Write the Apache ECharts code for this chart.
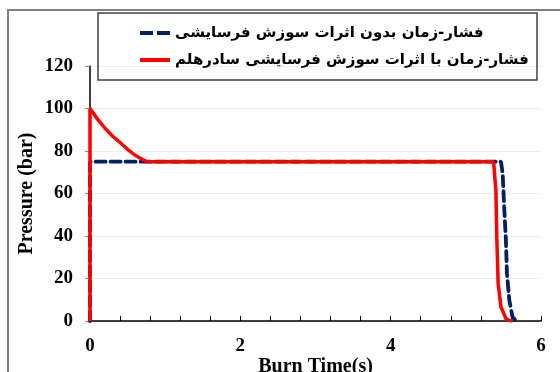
<!DOCTYPE html>
<html><head><meta charset="utf-8">
<script src="https://cdn.jsdelivr.net/npm/echarts@6/dist/echarts.min.js"></script>
<style>html,body{margin:0;padding:0;background:#fff}#c{width:560px;height:372px}</style>
</head><body><div id="c"></div>
<script>
// Series 1: pressure-time without erosive burning (dashed navy)
var timeNoErosion = [0, 0, 5.467, 5.49, 5.51, 5.533, 5.547, 5.578, 5.62, 5.66, 5.71];
var pressNoErosion = [0, 75, 75, 69.5, 53.8, 38, 22.4, 9.9, 2, 0.3, 0];
// Series 2: pressure-time with erosive burning (solid red)
var timeErosion = [0, 0, 0.1, 0.2, 0.3, 0.4, 0.5, 0.6, 0.7, 0.755, 5.369, 5.4, 5.413, 5.43, 5.467, 5.533, 5.58, 5.62];
var pressErosion = [0, 100, 95, 90.7, 87, 84, 80.8, 78, 76, 75, 75, 61.6, 38, 17.7, 6.7, 1.2, 0.2, 0];
var nameNoErosion = 'فشار-زمان بدون اثرات سوزش فرسایشی';
var nameErosion = 'فشار-زمان با اثرات سوزش فرسایشی سادرهلم';
var xTicks = [0, 2, 4, 6];
var yTicks = [0, 20, 40, 60, 80, 100, 120];

function pairs(xs, ys){ return xs.map(function(x,i){ return [x, ys[i]]; }); }

var chart = echarts.init(document.getElementById('c'), null, {renderer:'canvas'});
var serif = '"Liberation Serif", "Times New Roman", serif';
chart.setOption({
  animation: false,
  backgroundColor: '#fff',
  grid: {left: 90, right: 19, top: 66, bottom: 51, containLabel: false, outerBoundsMode: 'none'},
  graphic: [
    {type:'polyline', z: 0, silent:true, shape:{points:[[8,372],[8,10],[560,10]]}, style:{stroke:'#7f7f7f', lineWidth:2, fill:null}},
    {type:'rect', z: 10, silent:true, shape:{x:98, y:13, width:439, height:67}, style:{stroke:'#404040', lineWidth:1.5, fill:null}}
  ],
  legend: {
    orient: 'vertical', left: 140, top: 23,
    itemWidth: 30, itemHeight: 4, itemGap: 7,
    padding: 0,
    textStyle: {fontFamily: '"DejaVu Sans", sans-serif', fontWeight: 'bold', fontSize: 15, color: '#000', lineHeight: 20},
    data: [
      {name: nameNoErosion, icon: 'path://M0,0h13v4h-13z M17,0h13v4h-13z', itemStyle: {color: '#002060'}},
      {name: nameErosion, icon: 'rect', itemStyle: {color: '#ff0000'}}
    ]
  },
  xAxis: {
    type: 'value', min: 0, max: 6, interval: 2,
    name: 'Burn Time(s)', nameLocation: 'middle', nameGap: 36, nameMoveOverlap: false,
    nameTextStyle: {fontFamily: serif, fontWeight: 'bold', fontSize: 20, color: '#000'},
    axisLine: {show: true, onZero: false, lineStyle: {color: '#000', width: 1.5}},
    axisTick: {show: true, inside: true, length: 5, lineStyle: {color: '#000'}},
    minorTick: {show: true, splitNumber: 5, length: 5, lineStyle: {color: '#000'}},
    axisLabel: {fontFamily: serif, fontWeight: 'bold', fontSize: 19, color: '#000', margin: 16,
      formatter: function(v){ return xTicks.indexOf(Math.round(v)) >= 0 ? String(Math.round(v)) : ''; }},
    splitLine: {show: false}
  },
  yAxis: {
    type: 'value', min: 0, max: 120, interval: 20,
    name: 'Pressure (bar)', nameLocation: 'middle', nameGap: 53, nameMoveOverlap: false,
    nameTextStyle: {fontFamily: serif, fontWeight: 'bold', fontSize: 20, color: '#000'},
    axisLine: {show: true, lineStyle: {color: '#000', width: 1.5}},
    axisTick: {show: true, inside: false, length: 5, lineStyle: {color: '#888'}},
    axisLabel: {fontFamily: serif, fontWeight: 'bold', fontSize: 19, color: '#000', margin: 17,
      formatter: function(v){ return yTicks.indexOf(Math.round(v)) >= 0 ? String(Math.round(v)) : ''; }},
    splitLine: {show: true, lineStyle: {color: '#ececec', width: 1}}
  },
  series: [
    {name: nameNoErosion, type: 'line', showSymbol: false, symbol: 'none', z: 3,
     data: pairs(timeNoErosion, pressNoErosion),
     lineStyle: {color: '#002060', width: 3.8, type: [10, 5], cap: 'round'}, itemStyle: {color: '#002060'}},
    {name: nameErosion, type: 'line', showSymbol: false, symbol: 'none', z: 4,
     data: pairs(timeErosion, pressErosion),
     lineStyle: {color: '#ff0000', width: 3.5}, itemStyle: {color: '#ff0000'}}
  ]
});
</script></body></html>
